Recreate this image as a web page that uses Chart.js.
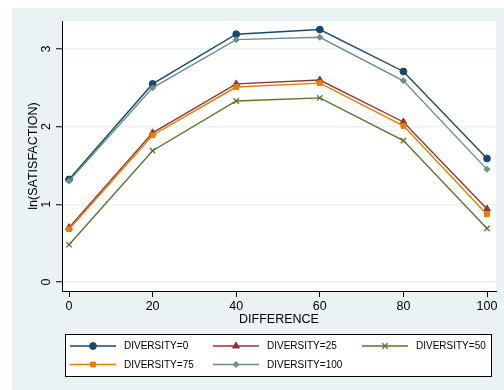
<!DOCTYPE html>
<html>
<head>
<meta charset="utf-8">
<script src="https://cdn.jsdelivr.net/npm/chart.js@4"></script>
<style>
  html, body { margin: 0; padding: 0; background: #ffffff; }
  canvas { display: block; }
</style>
</head>
<body>
<canvas id="c" width="504" height="390"></canvas>
<script>
// ---- data ----
const differences = [0, 20, 40, 60, 80, 100];
const seriesLabels = ['DIVERSITY=0', 'DIVERSITY=25', 'DIVERSITY=50', 'DIVERSITY=75', 'DIVERSITY=100'];
const diversity0   = [1.32, 2.55, 3.19, 3.25, 2.71, 1.59];
const diversity25  = [0.70, 1.92, 2.55, 2.60, 2.06, 0.94];
const diversity50  = [0.48, 1.69, 2.33, 2.37, 1.82, 0.69];
const diversity75  = [0.68, 1.89, 2.51, 2.56, 2.01, 0.87];
const diversity100 = [1.30, 2.50, 3.12, 3.15, 2.59, 1.45];
const xTicks = [0, 20, 40, 60, 80, 100];
const yTicks = [0, 1, 2, 3];

// ---- styles ----
const colors = ['#1a476f', '#90353b', '#55752f', '#e37e00', '#6e8e84'];
const markers = [
  { pointStyle: 'circle',   radius: 3.4, borderWidth: 1 },
  { pointStyle: 'triangle', radius: 4,   borderWidth: 1 },
  { pointStyle: 'crossRot', radius: 3.8, borderWidth: 1.3 },
  { pointStyle: 'rect',     radius: 3.4, borderWidth: 1 },
  { pointStyle: 'rectRot',  radius: 3,   borderWidth: 1 }
];
const allSeries = [diversity0, diversity25, diversity50, diversity75, diversity100];
const FONT = '"Liberation Sans", Arial, sans-serif';
const GRAY = '#eaf2f3';

const datasets = allSeries.map((vals, i) => ({
  label: seriesLabels[i],
  data: vals.map((v, j) => ({ x: differences[j], y: v })),
  borderColor: colors[i],
  backgroundColor: colors[i],
  pointBackgroundColor: colors[i],
  pointBorderColor: colors[i],
  pointStyle: markers[i].pointStyle,
  pointRadius: markers[i].radius,
  pointBorderWidth: markers[i].borderWidth,
  borderWidth: 1.4,
  tension: 0,
  fill: false,
  order: allSeries.length - 1 - i
}));

const bgPlugin = {
  id: 'bg',
  beforeDraw(chart) {
    const { ctx, chartArea: ca } = chart;
    ctx.save();
    ctx.fillStyle = '#ffffff';
    ctx.fillRect(0, 0, chart.width, chart.height);
    ctx.fillStyle = GRAY;
    ctx.fillRect(12, 8, chart.width - 12, chart.height - 8);
    ctx.fillStyle = '#ffffff';
    ctx.fillRect(ca.left, ca.top, ca.right - ca.left, ca.bottom - ca.top);
    ctx.restore();
  }
};

const legendPlugin = {
  id: 'stataLegend',
  afterDraw(chart) {
    const ctx = chart.ctx;
    ctx.save();
    ctx.fillStyle = '#ffffff';
    ctx.fillRect(65.5, 334.5, 426, 42);
    ctx.strokeStyle = '#000000';
    ctx.lineWidth = 1;
    ctx.strokeRect(65.5, 334.5, 426, 42);
    const colStarts = [70, 213, 362];
    const rows = [346, 364.5];
    const lineLen = 46;
    ctx.font = '10px ' + FONT;
    ctx.textBaseline = 'middle';
    ctx.textAlign = 'left';
    seriesLabels.forEach((lab, i) => {
      const r = Math.floor(i / 3), c = i % 3;
      const x0 = colStarts[c], y = rows[r];
      ctx.strokeStyle = colors[i];
      ctx.fillStyle = colors[i];
      ctx.lineWidth = 1.4;
      ctx.beginPath();
      ctx.moveTo(x0, y);
      ctx.lineTo(x0 + lineLen, y);
      ctx.stroke();
      ctx.lineWidth = markers[i].borderWidth;
      Chart.helpers.drawPoint(ctx, {
        pointStyle: markers[i].pointStyle,
        radius: markers[i].radius,
        rotation: 0,
        borderWidth: markers[i].borderWidth
      }, x0 + lineLen / 2, y);
      ctx.fillStyle = '#000000';
      ctx.fillText(lab, x0 + 54, y + 0.5);
    });
    ctx.restore();
  }
};

new Chart(document.getElementById('c'), {
  type: 'line',
  data: { datasets },
  options: {
    responsive: false,
    animation: false,
    devicePixelRatio: 1,
    layout: { padding: { left: 0, right: 8, top: 21, bottom: 63 } },
    plugins: { legend: { display: false }, tooltip: { enabled: false } },
    scales: {
      x: {
        type: 'linear',
        min: -1.675,
        max: 102.15,
        afterBuildTicks: s => { s.ticks = xTicks.map(v => ({ value: v })); },
        afterFit: s => { s.height = 36; },
        grid: { display: true, drawOnChartArea: false, drawTicks: true, tickLength: 6, tickColor: '#000000', tickWidth: 1 },
        border: { display: true, color: '#000000', width: 1 },
        ticks: { autoSkip: false, maxRotation: 0, minRotation: 0, padding: 2, color: '#000000', font: { family: FONT, size: 12.5 } },
        title: { display: true, text: 'DIFFERENCE', color: '#000000', padding: { top: 0, bottom: 0 }, font: { family: FONT, size: 12.5 } }
      },
      y: {
        type: 'linear',
        min: -0.116,
        max: 3.36,
        afterBuildTicks: s => { s.ticks = yTicks.map(v => ({ value: v })); },
        afterFit: s => { s.width = 62; },
        grid: { display: true, drawOnChartArea: true, color: GRAY, lineWidth: 1.5, drawTicks: true, tickLength: 6, tickColor: '#000000', tickWidth: 1 },
        border: { display: true, color: '#000000', width: 1 },
        ticks: { autoSkip: false, minRotation: 90, maxRotation: 90, crossAlign: 'center', padding: 5.5, color: '#000000', font: { family: FONT, size: 12.5 } },
        title: { display: true, text: 'ln(SATISFACTION)', color: '#000000', padding: { top: 26, bottom: 0 }, font: { family: FONT, size: 12.5 } }
      }
    }
  },
  plugins: [bgPlugin, legendPlugin]
});
</script>
</body>
</html>
